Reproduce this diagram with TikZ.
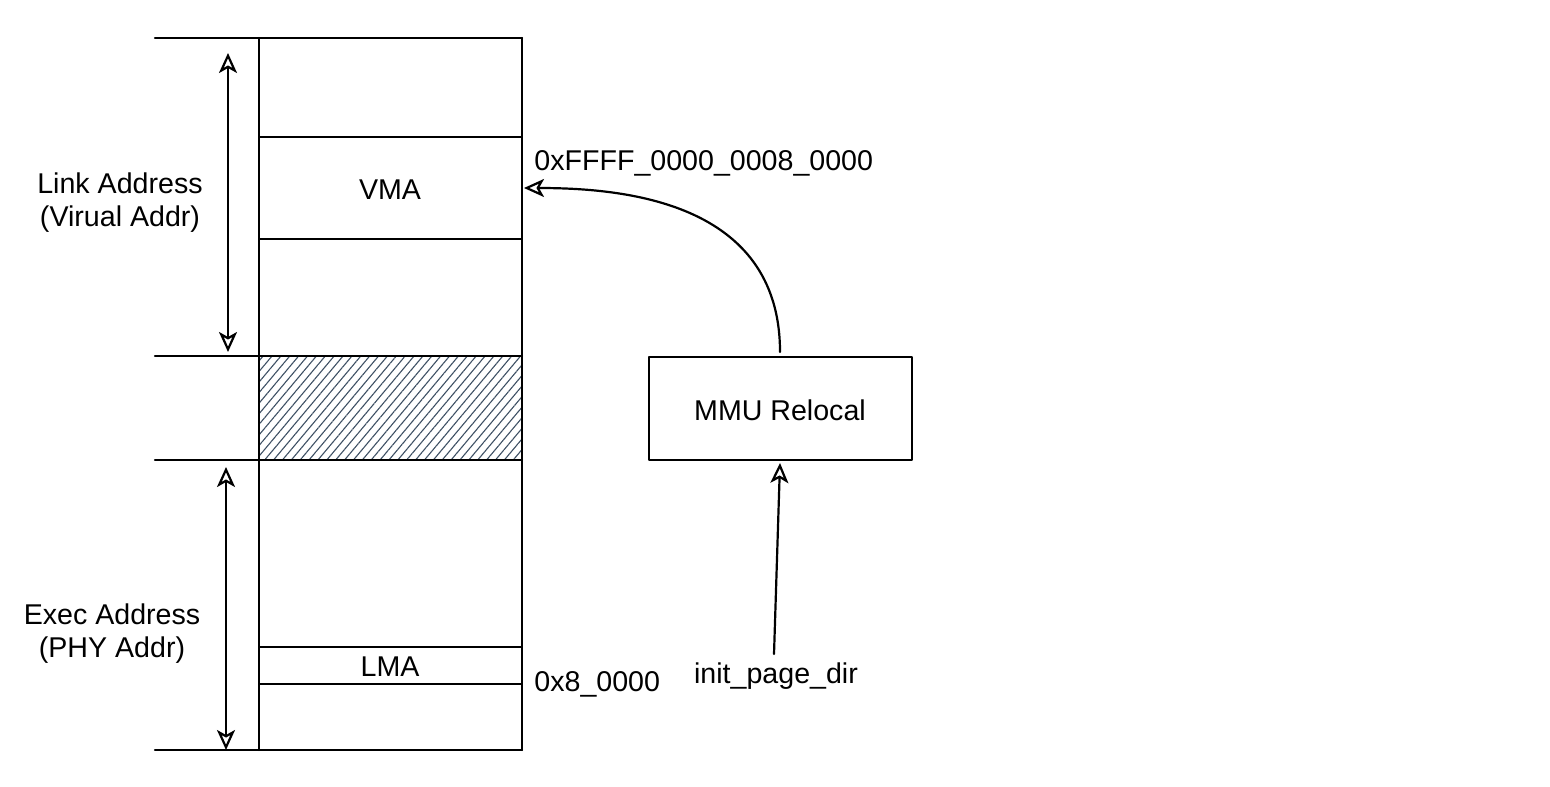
\documentclass[tikz,border=0pt]{standalone}
\usepackage{fontspec}
\setmainfont{Liberation Sans}
\usetikzlibrary{arrows.meta,patterns.meta}
\definecolor{hatch}{RGB}{62,80,100}
\tikzset{
  ln/.style={line width=1.1pt, line cap=round, line join=round},
  txt/.style={inner sep=0pt, font=\fontsize{14.3}{16.5}\selectfont, align=center},
  tip/.style={-{Stealth[open,length=10pt,width=9pt,inset=2.5pt]}},
  both/.style={{Stealth[open,length=10pt,width=9pt,inset=2.5pt]}-{Stealth[open,length=10pt,width=9pt,inset=2.5pt]}},
}
\begin{document}
\begin{tikzpicture}[x=0.5pt,y=-0.5pt]
\useasboundingbox (0,0) rectangle (1550,786);
% hatched band
\fill[pattern={Lines[angle=50,distance=3.4pt,line width=0.55pt]}, pattern color=hatch] (259,356) rectangle (522,460);
\draw[ln, hatch] (259,356) rectangle (522,460);
% memory column
\draw[ln] (155,38) -- (522,38);
\draw[ln] (155,356) -- (522,356);
\draw[ln] (155,460) -- (522,460);
\draw[ln] (155,750) -- (522,750);
\draw[ln] (259,38) -- (259,750);
\draw[ln] (522,38) -- (522,750);
% VMA box
\draw[ln] (259,137) rectangle (522,239);
\node[txt] (vma) at (390,190) {VMA};
\coordinate (vmaR) at (524,188);
% LMA box
\draw[ln] (259,647) rectangle (522,684);
\node[txt] (lma) at (390,667) {LMA};
% range arrows
\coordinate (a1t) at (228,53);
\coordinate (a1b) at (228,352);
\coordinate (a2t) at (226,467);
\coordinate (a2b) at (226,750);
\draw[ln, both] (a1t) -- (a1b);
\draw[ln, both] (a2t) -- (a2b);
% side labels
\node[txt] (link) at (120,203) {Link Address\\(Virual Addr)};
\node[txt] (exec) at (112,634) {Exec Address\\(PHY Addr)};
% address labels
\node[txt, anchor=west] (hi) at (534,163) {0xFFFF\_0000\_0008\_0000};
\node[txt, anchor=west] (lo) at (534,684) {0x8\_0000};
% MMU box
\draw[ln] (649,357) rectangle (912,460);
\node[txt] (mmu) at (780,410) {MMU Relocal};
\coordinate (mmuT) at (780,352);
\coordinate (mmuB) at (780,463);
% init_page_dir
\node[txt] (ipd) at (776,676) {init\_page\_dir};
\coordinate (ipdT) at (774,654);
\draw[ln, tip] (ipdT) -- (mmuB);
\draw[ln, tip] (mmuT) .. controls (780,200) and (620,188) .. (vmaR);
\end{tikzpicture}
\end{document}
